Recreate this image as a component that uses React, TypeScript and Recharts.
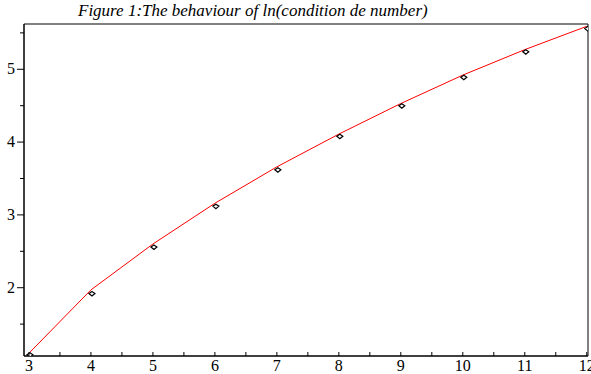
import React from "react";
import { ComposedChart, Line, Scatter, XAxis, YAxis, ReferenceArea } from "recharts";

const xValues = [3, 4, 5, 6, 7, 8, 9, 10, 11, 12];
const curveValues = [1.1, 1.97, 2.6, 3.16, 3.66, 4.11, 4.53, 4.92, 5.27, 5.59];
const pointValues = [1.08, 1.92, 2.56, 3.12, 3.62, 4.08, 4.5, 4.89, 5.24, 5.56];
const xTicks = [3, 3.5, 4, 4.5, 5, 5.5, 6, 6.5, 7, 7.5, 8, 8.5, 9, 9.5, 10, 10.5, 11, 11.5, 12];
const yTicks = [1.5, 2, 2.5, 3, 3.5, 4, 4.5, 5, 5.5];
const xDomain = [2.92, 12.02];
const yDomain = [1.062, 5.622];

const data = xValues.map((x, i) => ({ x, curve: curveValues[i], point: pointValues[i] }));

const font = "'Liberation Serif', 'Times New Roman', Times, serif";

const XTick = (props: any) => {
    const { x, y, payload } = props;
    const major = Number.isInteger(payload.value);
    return (
        <g>
            <line x1={x} x2={x} y1={y} y2={y - 4} stroke="#000" />
            {major && (
                <text x={x} y={y + 15} textAnchor="middle" fontFamily={font} fontSize={16} fill="#000">
                    {payload.value}
                </text>
            )}
        </g>
    );
};

const YTick = (props: any) => {
    const { x, y, payload } = props;
    const major = Number.isInteger(payload.value);
    return (
        <g>
            <line x1={x} x2={x - (major ? 7 : 4)} y1={y} y2={y} stroke="#000" />
            {major && (
                <text x={x - 9} y={y + 5} textAnchor="end" fontFamily={font} fontSize={16} fill="#000">
                    {payload.value}
                </text>
            )}
        </g>
    );
};

const Diamond = (props: any) => {
    const { cx, cy } = props;
    return (
        <path
            d={`M${cx + 1} ${cy - 2} L${cx + 4} ${cy} L${cx + 1} ${cy + 2.5} L${cx - 2} ${cy} Z`}
            fill="#fff"
            stroke="#000"
            strokeWidth={1.2}
        />
    );
};

export default function App() {
    return (
        <div style={{ position: "absolute", left: 0, top: 0, width: 591, height: 374, background: "#fff" }}>
            <div
                style={{
                    position: "absolute",
                    left: 78,
                    top: 1,
                    whiteSpace: "nowrap",
                    fontFamily: font,
                    fontStyle: "italic",
                    fontSize: 17,
                    lineHeight: "20px",
                }}
            >
                Figure 1:The behaviour of ln(condition de number)
            </div>
            <ComposedChart width={591} height={374} data={data} margin={{ top: 24, right: 3, left: 0, bottom: 0 }}>
                <XAxis
                    dataKey="x"
                    type="number"
                    domain={xDomain}
                    ticks={xTicks}
                    interval={0}
                    height={18}
                    tickSize={0}
                    tickMargin={0}
                    tick={<XTick />}
                    axisLine={{ stroke: "#000" }}
                    allowDataOverflow
                />
                <YAxis
                    type="number"
                    domain={yDomain}
                    ticks={yTicks}
                    interval={0}
                    width={24}
                    tickSize={0}
                    tickMargin={0}
                    tick={<YTick />}
                    axisLine={{ stroke: "#000" }}
                    allowDataOverflow
                />
                <ReferenceArea
                    x1={xDomain[0]}
                    x2={xDomain[1]}
                    y1={yDomain[0]}
                    y2={yDomain[1]}
                    fill="none"
                    fillOpacity={0}
                    stroke="#000"
                    strokeOpacity={1}
                    strokeWidth={1}
                    ifOverflow="visible"
                />
                <Line
                    dataKey="curve"
                    type="linear"
                    stroke="#ff0000"
                    strokeWidth={1}
                    dot={false}
                    isAnimationActive={false}
                />
                <Scatter dataKey="point" shape={<Diamond />} isAnimationActive={false} />
            </ComposedChart>
        </div>
    );
}
